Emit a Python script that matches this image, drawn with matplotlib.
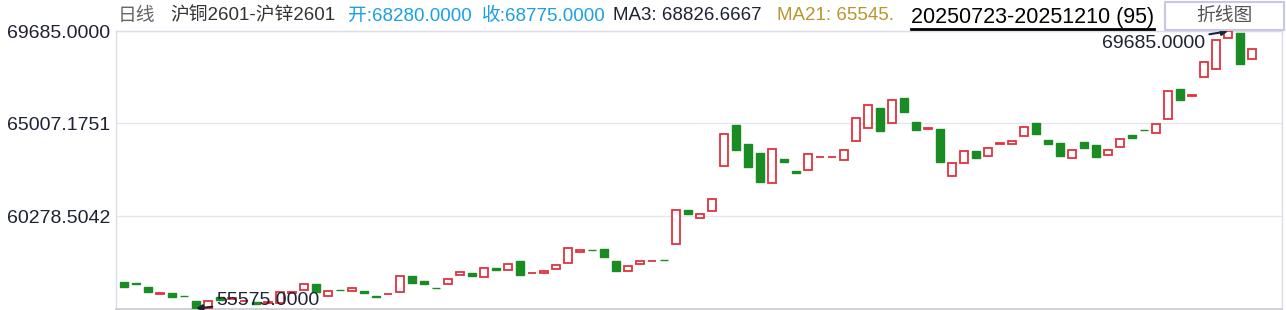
import numpy as np
import matplotlib
matplotlib.use("Agg")
import matplotlib.pyplot as plt
from matplotlib.lines import Line2D
from matplotlib.patches import Rectangle

plt.rcParams['font.family'] = ['Liberation Sans', 'Noto Sans CJK SC', 'DejaVu Sans']

# 日K (沪铜2601-沪锌2601 价差), 20250723-20251210, 95 根
opens = [56935, 56860, 56680, 56330, 56375, 56230, 55965, 55625, 56185, 56035,
         55950, 55905, 55880, 55830, 56380, 56525, 56800, 56200, 56535, 56455,
         56490, 56195, 56315, 56405, 57255, 56950, 56640, 56835, 57290, 57360,
         57190, 57650, 57545, 57970, 57385, 57375, 57595, 57905, 58445, 58575,
         58580, 57970, 57495, 57850, 57995, 58065, 58870, 60600, 60195, 60550,
         62845, 64895, 63930, 63470, 61955, 63165, 62570, 62640, 63295, 63295,
         63150, 64095, 64780, 65765, 65035, 66270, 65050, 64710, 64690, 62335,
         62995, 63570, 63355, 63970, 63945, 64370, 65000, 64135, 63980, 63240,
         64030, 63880, 63405, 63775, 64385, 64665, 64490, 65200, 66730, 66400,
         67375, 67785, 69365, 69585, 68280]
closes = [56680, 56840, 56425, 56345, 56170, 56210, 55575, 55965, 56020, 56110,
          55965, 55805, 55920, 56425, 56400, 56835, 56405, 56490, 56520, 56630,
          56355, 56180, 56330, 57255, 56865, 56810, 56620, 57090, 57445, 57220,
          57650, 57525, 57850, 57270, 57400, 57460, 57800, 58665, 58530, 58555,
          58190, 57475, 57750, 58005, 58010, 58045, 60600, 60380, 60400, 61165,
          64475, 63625, 62770, 61995, 63710, 63025, 62465, 63455, 63310, 63310,
          63625, 65290, 65950, 64605, 66205, 65560, 64655, 64780, 63025, 62995,
          63610, 63230, 63760, 63990, 64115, 64795, 64455, 63945, 63335, 63660,
          63760, 63300, 63660, 64220, 64270, 64650, 64965, 66665, 66205, 66420,
          68105, 69225, 69685, 68020, 68775]

y_ticks = [60278.5042, 65007.1751, 69685.0]
title_code = "沪铜2601-沪锌2601"
date_range = "20250723-20251210 (95)"

W, H = 1286, 310
UP = '#e2323c'
DOWN = '#1a8c24'


def fx(x):
    return x / W


def fy(y):
    return 1 - y / H


fig = plt.figure(figsize=(W / 100, H / 100), dpi=100)
ax = fig.add_axes([fx(116), fy(309), fx(1282) - fx(116), fy(31) - fy(309)])

o = np.array(opens, dtype=float)
c = np.array(closes, dtype=float)
idx = np.arange(len(o))
up = c >= o

# 阳线: 空心红框, 阴线: 实心绿
ax.bar(idx[up], c[up] - o[up], bottom=o[up], width=0.66,
       facecolor='white', edgecolor=UP, linewidth=1.3, zorder=3)
ax.bar(idx[~up], c[~up] - o[~up], bottom=o[~up], width=0.66,
       facecolor=DOWN, edgecolor=DOWN, linewidth=1.0, zorder=3)

ax.set_xlim(-0.67, len(o) + 1.5)
ax.set_ylim(55550, 69700)

ax.set_yticks(y_ticks)
ax.set_yticklabels([f"{v:.4f}" for v in y_ticks])
ax.tick_params(axis='y', length=0, pad=4, labelsize=14, labelcolor='#1e2233')
ax.set_xticks([])
ax.grid(axis='y', color='#e6e6f2', linewidth=1.0)
ax.set_axisbelow(True)
for side in ['left', 'right', 'top']:
    ax.spines[side].set_color('#dcdcec')
    ax.spines[side].set_linewidth(1.0)
ax.spines['bottom'].set_color('#c8c8d0')
ax.spines['bottom'].set_linewidth(1.2)

# 最高/最低标注
hi = int(np.argmax(np.maximum(o, c)))
lo = int(np.argmin(np.minimum(o, c)))
ax.annotate(f"{max(o[hi], c[hi]):.4f}", xy=(hi, max(o[hi], c[hi])),
            xytext=(hi - 1.9, 69080), ha='right', va='center',
            fontsize=14, color='#1e2233',
            arrowprops=dict(arrowstyle='-|>', color='#1e2233', lw=1.5,
                            mutation_scale=9, shrinkA=1, shrinkB=0))
ax.annotate(f"{min(o[lo], c[lo]):.4f}", xy=(lo, min(o[lo], c[lo])),
            xytext=(lo + 1.7, 55980), ha='left', va='center',
            fontsize=14, color='#1e2233',
            arrowprops=dict(arrowstyle='-|>', color='#1e2233', lw=1.5,
                            mutation_scale=9, shrinkA=1, shrinkB=0))

# 顶部信息栏
ma3 = c[-3:].mean()
yh = fy(16)
fig.text(fx(118), yh, "日线", fontsize=13.5, color='#666666', va='center')
fig.text(fx(170), yh, title_code, fontsize=13.5, color='#333333', va='center')
fig.text(fx(348), yh, f"开:{o[-1]:.4f}", fontsize=13.5, color='#1a9fe6', va='center')
fig.text(fx(482), yh, f"收:{c[-1]:.4f}", fontsize=13.5, color='#1a9fe6', va='center')
fig.text(fx(613), yh, f"MA3: {ma3:.4f}", fontsize=13.5, color='#1e2233', va='center')
fig.text(fx(777), yh, "MA21: 65545.", fontsize=13.5, color='#b8962e', va='center')
dt = fig.text(fx(911), yh - 0.005, date_range, fontsize=15.5, color='black', va='center')

fig.canvas.draw()
bb = dt.get_window_extent()
fig.add_artist(Line2D([bb.x0 / W, bb.x1 / W], [fy(29), fy(29)],
                      color='black', linewidth=2.0, transform=fig.transFigure))

fig.add_artist(Rectangle((fx(1165), fy(30)), fx(1284) - fx(1165), fy(2) - fy(30),
                         facecolor='white', edgecolor='#c8c8e4', linewidth=1.5,
                         transform=fig.transFigure))
fig.text(fx(1224), fy(16), "折线图", fontsize=13.5, color='#555555',
         ha='center', va='center')

fig.savefig("out.png", dpi=100)
